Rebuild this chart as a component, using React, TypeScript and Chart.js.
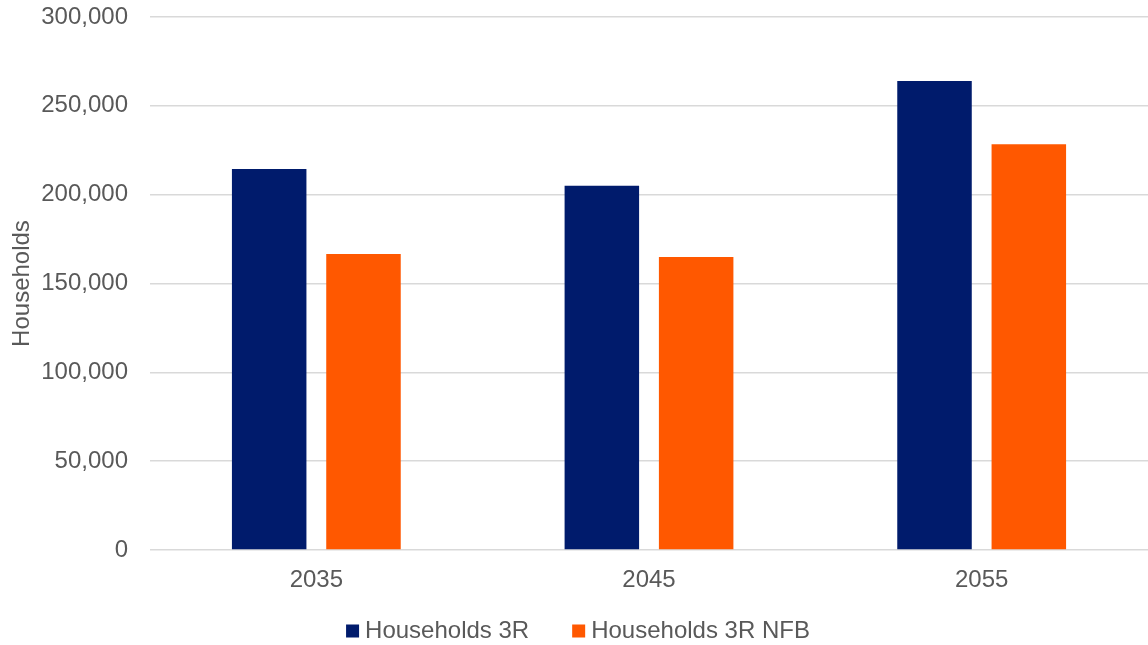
import React, { useEffect, useRef } from "react";
import { Chart, registerables } from "chart.js";

Chart.register(...registerables);

const categories = ["2035", "2045", "2055"];
const households3R = [214400, 205000, 264000];
const households3RNFB = [166600, 164900, 228400];
const seriesNames = ["Households 3R", "Households 3R NFB"];
const seriesColors = ["#001B6C", "#FF5800"];
const yMin = 0;
const yMax = 300000;
const yStep = 50000;
const yTitle = "Households";

const FONT = "'Liberation Sans', Arial, Helvetica, sans-serif";
const TEXT_COLOR = "#595959";

const legendPlugin = {
  id: "customLegend",
  afterDraw(chart: any) {
    const ctx = chart.ctx as CanvasRenderingContext2D;
    ctx.save();
    ctx.font = `24px ${FONT}`;
    const box = 13;
    const gapText = 6;
    const gapItem = 43;
    const items = chart.data.datasets.map((ds: any) => ({
      label: ds.label as string,
      color: ds.backgroundColor as string,
      w: ctx.measureText(ds.label).width,
    }));
    const total = items.reduce(
      (s: number, it: any, i: number) => s + box + gapText + it.w + (i ? gapItem : 0),
      0
    );
    let x = chart.width / 2 - total / 2 + 4;
    const y = 631;
    ctx.textBaseline = "middle";
    ctx.textAlign = "left";
    items.forEach((it: any) => {
      ctx.fillStyle = it.color;
      ctx.fillRect(x, y - box / 2, box, box);
      x += box + gapText;
      ctx.fillStyle = TEXT_COLOR;
      ctx.fillText(it.label, x, y);
      x += it.w + gapItem;
    });
    ctx.restore();
  },
};

export default function App() {
  const canvasRef = useRef<HTMLCanvasElement | null>(null);

  useEffect(() => {
    if (!canvasRef.current) return;
    const chart = new Chart(canvasRef.current, {
      type: "bar",
      data: {
        labels: categories,
        datasets: [
          {
            label: seriesNames[0],
            data: households3R,
            backgroundColor: seriesColors[0],
            barPercentage: 0.79,
            categoryPercentage: 0.567,
          },
          {
            label: seriesNames[1],
            data: households3RNFB,
            backgroundColor: seriesColors[1],
            barPercentage: 0.79,
            categoryPercentage: 0.567,
          },
        ],
      },
      options: {
        animation: false,
        responsive: true,
        maintainAspectRatio: false,
        layout: { padding: { top: 17, right: 0, bottom: 0, left: 0 } },
        plugins: {
          legend: { display: false },
          tooltip: { enabled: false },
        },
        scales: {
          x: {
            grid: { display: false },
            border: { display: false },
            ticks: {
              font: { family: FONT, size: 24 },
              color: TEXT_COLOR,
              padding: 8,
            },
            afterFit: (scale: any) => {
              scale.height = 95;
            },
          },
          y: {
            min: yMin,
            max: yMax,
            border: { display: false },
            grid: { color: "#D9D9D9", lineWidth: 1.5, drawTicks: false },
            ticks: {
              stepSize: yStep,
              font: { family: FONT, size: 24 },
              color: TEXT_COLOR,
              padding: 22,
              callback: (v: any) => Number(v).toLocaleString("en-US"),
            },
            title: {
              display: true,
              text: yTitle,
              font: { family: FONT, size: 24 },
              color: TEXT_COLOR,
              padding: { top: 8, bottom: 0 },
            },
            afterFit: (scale: any) => {
              scale.width = 150;
              scale.paddingTop = 0;
              scale.paddingBottom = 0;
            },
          },
        },
      },
      plugins: [legendPlugin],
    });
    return () => chart.destroy();
  }, []);

  return (
    <div style={{ position: "absolute", left: 0, top: 0, width: 1148, height: 645, background: "#fff" }}>
      <canvas ref={canvasRef} />
    </div>
  );
}
